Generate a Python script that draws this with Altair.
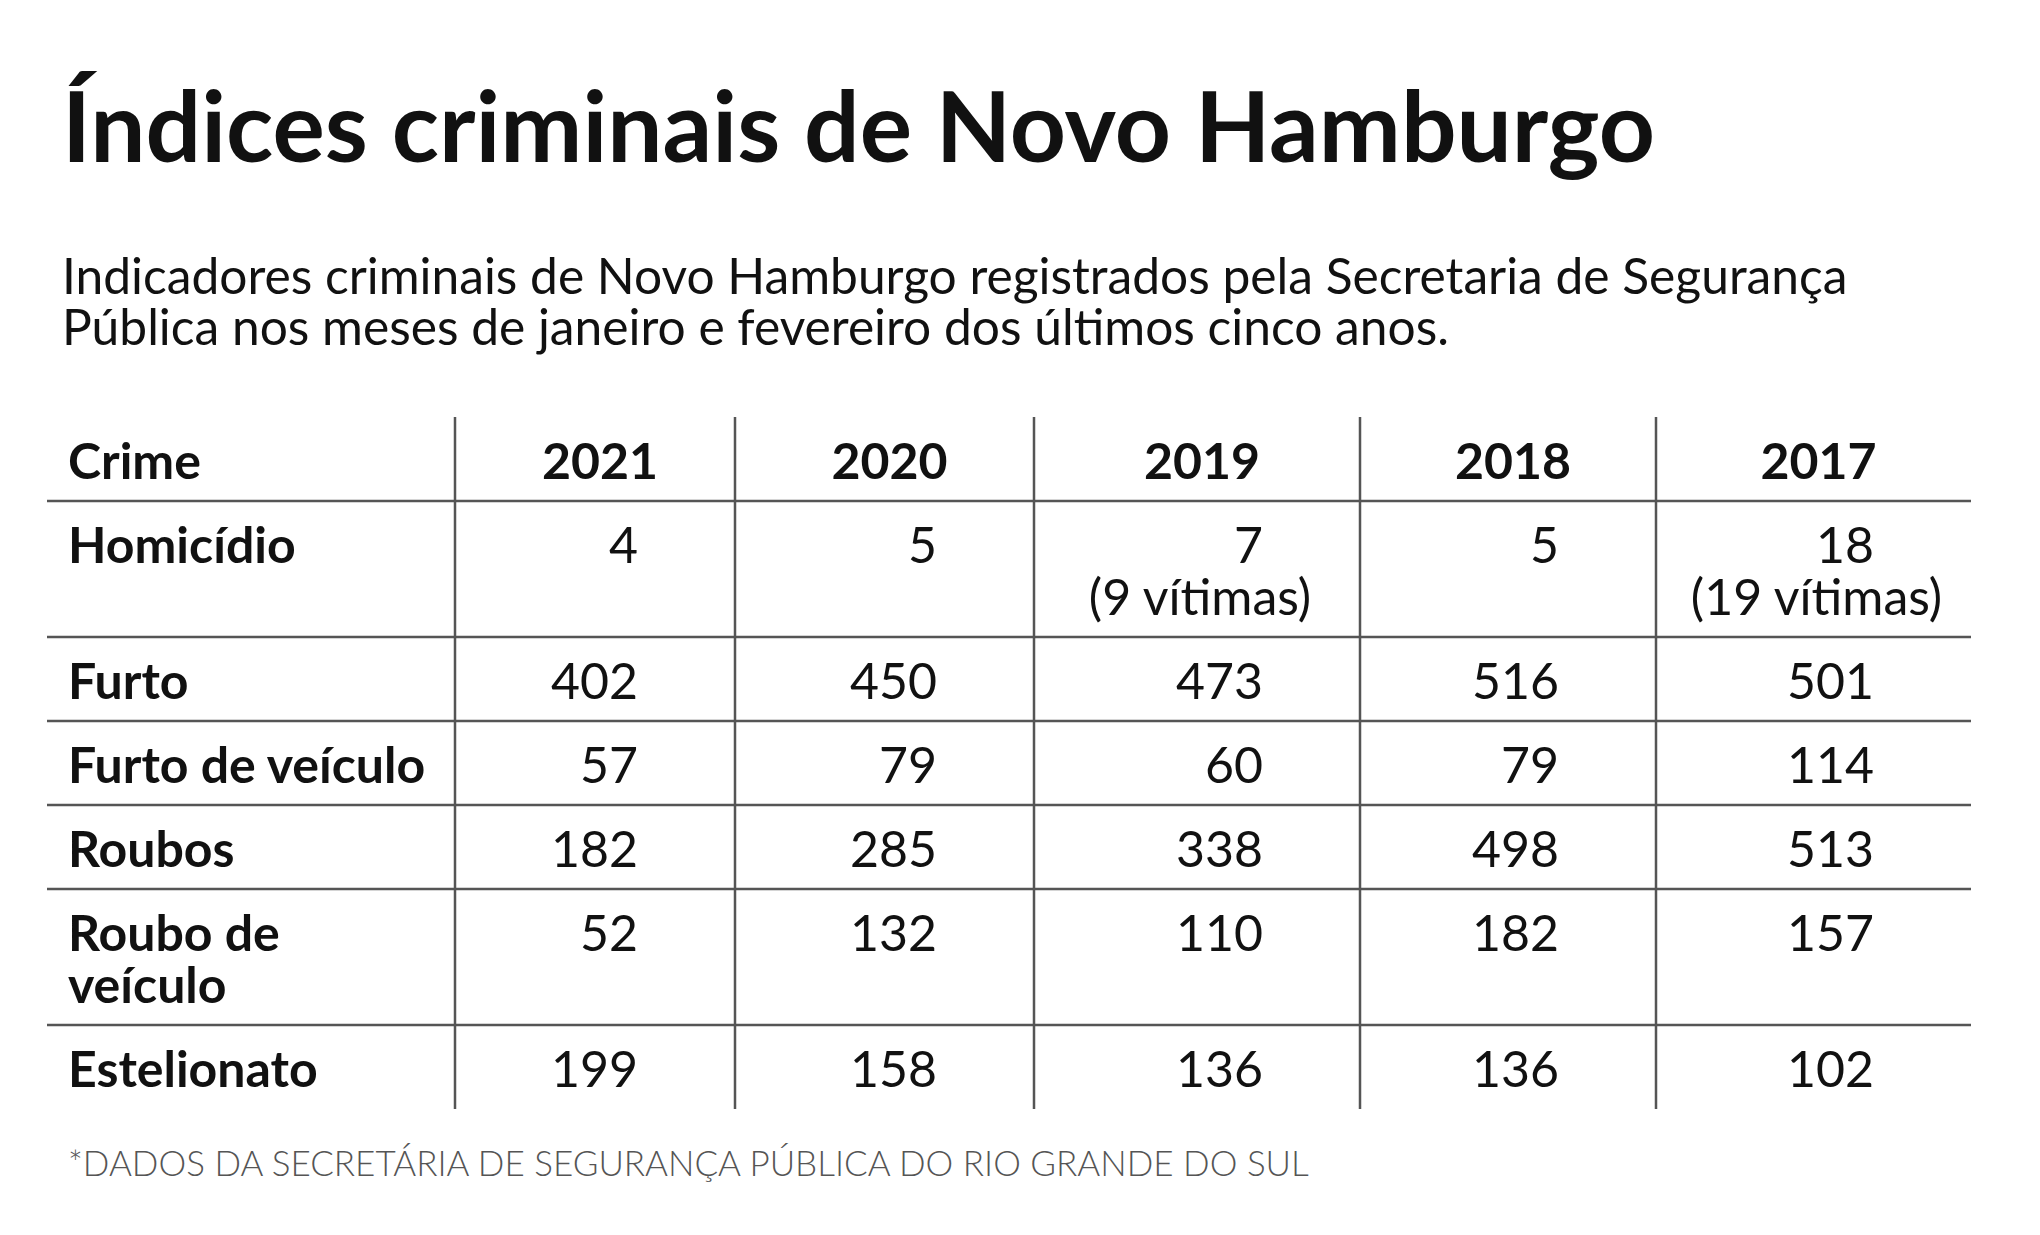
import altair as alt
import pandas as pd

# ---------------- data ----------------
title_text = "Índices criminais de Novo Hamburgo"
subtitle_lines = [
    "Indicadores criminais de Novo Hamburgo registrados pela Secretaria de Segurança",
    "Pública nos meses de janeiro e fevereiro dos últimos cinco anos.",
]
footnote_text = "*DADOS DA SECRETÁRIA DE SEGURANÇA PÚBLICA DO RIO GRANDE DO SUL"

header_first = "Crime"
crimes = ["Homicídio", "Furto", "Furto de veículo", "Roubos", "Roubo de\nveículo", "Estelionato"]
years = ["2021", "2020", "2019", "2018", "2017"]
values_2021 = [4, 402, 57, 182, 52, 199]
values_2020 = [5, 450, 79, 285, 132, 158]
values_2019 = [7, 473, 60, 338, 110, 136]
values_2018 = [5, 516, 79, 498, 182, 136]
values_2017 = [18, 501, 114, 513, 157, 102]
homicide_victims = [None, None, 9, None, 19]  # per year, same order as `years`

values_by_year = [values_2021, values_2020, values_2019, values_2018, values_2017]

# ---------------- layout (style) ----------------
COL_W = [408, 280, 299, 326, 296, 315]
ROW_BASE = 84
LINE_H = 52
BASELINE_OFF = 62
NUM_PAD = 97
LABEL_PAD = 21
HEADER_DX = 5
FOOT_GAP = 67
FONT = "Lato"
TXT = "#111111"
LINE_COLOR = "#555555"

TABLE_W = sum(COL_W)
col_left = [sum(COL_W[:i]) for i in range(len(COL_W))]
col_right = [col_left[i] + COL_W[i] for i in range(len(COL_W))]
col_center = [(col_left[i] + col_right[i]) / 2 for i in range(len(COL_W))]

# lines per body row
row_lines = []
for r, c in enumerate(crimes):
    n = c.count("\n") + 1
    if r == 0 and any(v is not None for v in homicide_victims):
        n = max(n, 2)
    row_lines.append(n)
row_h = [ROW_BASE] + [ROW_BASE + LINE_H * (n - 1) for n in row_lines]
row_top = [sum(row_h[:i]) for i in range(len(row_h))]
TABLE_H = sum(row_h)
PLOT_H = TABLE_H + FOOT_GAP + 20

# ---------------- tables ----------------
header_label = pd.DataFrame([{"x": LABEL_PAD, "y": BASELINE_OFF, "text": header_first}])
header_years = pd.DataFrame(
    [{"x": col_center[i + 1] + HEADER_DX, "y": BASELINE_OFF, "text": y} for i, y in enumerate(years)]
)
row_labels = pd.DataFrame(
    [{"x": LABEL_PAD, "y": row_top[r + 1] + BASELINE_OFF, "text": c} for r, c in enumerate(crimes)]
)
numbers = pd.DataFrame(
    [
        {"x": col_right[i + 1] - NUM_PAD, "y": row_top[r + 1] + BASELINE_OFF, "text": str(vals[r])}
        for i, vals in enumerate(values_by_year)
        for r in range(len(crimes))
    ]
)
notes = pd.DataFrame(
    [
        {"x": col_center[i + 1] + 3, "y": row_top[1] + BASELINE_OFF + LINE_H, "text": f"({v} vítimas)"}
        for i, v in enumerate(homicide_victims)
        if v is not None
    ]
)
hlines = pd.DataFrame([{"x": 0, "x2": TABLE_W, "y": row_top[i]} for i in range(1, len(row_top))])
vlines = pd.DataFrame([{"x": col_left[i], "y": 0, "y2": TABLE_H} for i in range(1, len(COL_W))])
foot = pd.DataFrame([{"x": LABEL_PAD, "y": TABLE_H + FOOT_GAP, "text": footnote_text}])

X = alt.Scale(domain=[0, TABLE_W], nice=False, zero=False)
Y = alt.Scale(domain=[0, PLOT_H], nice=False, zero=False, reverse=True)


def text_layer(df, align, weight="normal", size=50, color=TXT, line_break=None):
    kw = dict(align=align, baseline="alphabetic", font=FONT, fontSize=size,
              fontWeight=weight, color=color)
    if line_break:
        kw["lineBreak"] = line_break
        kw["lineHeight"] = LINE_H
    return alt.Chart(df).mark_text(**kw).encode(
        x=alt.X("x:Q", scale=X, axis=None),
        y=alt.Y("y:Q", scale=Y, axis=None),
        text="text:N",
    )


h_rules = alt.Chart(hlines).mark_rule(color=LINE_COLOR, strokeWidth=2.5).encode(
    x=alt.X("x:Q", scale=X, axis=None), x2="x2:Q", y=alt.Y("y:Q", scale=Y, axis=None)
)
v_rules = alt.Chart(vlines).mark_rule(color=LINE_COLOR, strokeWidth=2.5).encode(
    x=alt.X("x:Q", scale=X, axis=None), y=alt.Y("y:Q", scale=Y, axis=None), y2="y2:Q"
)

chart = alt.layer(
    h_rules,
    v_rules,
    text_layer(header_label, "left", "bold"),
    text_layer(header_years, "center", "bold"),
    text_layer(row_labels, "left", "bold", line_break="\n"),
    text_layer(numbers, "right"),
    text_layer(notes, "center"),
    text_layer(foot, "left", weight=300, size=35, color="#555555"),
).properties(
    width=TABLE_W,
    height=PLOT_H,
    background="white",
    title=alt.TitleParams(
        text=title_text,
        subtitle=subtitle_lines,
        anchor="start",
        frame="group",
        dx=15,
        offset=60,
        font=FONT,
        fontSize=98,
        fontWeight="bold",
        color=TXT,
        subtitleFont=FONT,
        subtitleFontSize=49.7,
        subtitleFontWeight="normal",
        subtitleColor=TXT,
        subtitleLineHeight=51,
        subtitlePadding=72,
    ),
    autosize=alt.AutoSizeParams(type="none"),
    padding={"left": 39, "top": 409, "right": 61, "bottom": 10},
).configure_view(strokeWidth=0, stroke="transparent")

chart.save("out.html", embed_options={"renderer": "svg", "actions": False})
